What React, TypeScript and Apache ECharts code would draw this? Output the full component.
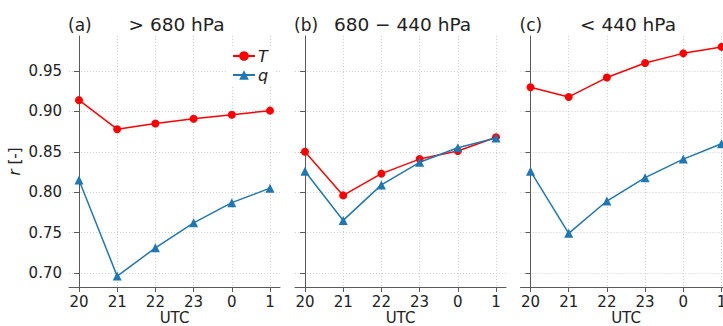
import React, { useEffect, useRef } from "react";
import * as echarts from "echarts";

// Hour labels along the x axis (UTC)
const hours = ["20", "21", "22", "23", "0", "1"];

// Correlation r for temperature (T) and humidity (q), per pressure layer
const tLow = [0.914, 0.878, 0.885, 0.891, 0.896, 0.901];
const qLow = [0.815, 0.696, 0.731, 0.762, 0.787, 0.805];

const tMid = [0.850, 0.796, 0.823, 0.841, 0.851, 0.868];
const qMid = [0.826, 0.765, 0.809, 0.837, 0.855, 0.867];

const tHigh = [0.930, 0.918, 0.942, 0.960, 0.972, 0.980];
const qHigh = [0.826, 0.749, 0.789, 0.818, 0.841, 0.860];

const panelTags = ["(a)", "(b)", "(c)"];
const panelTitles = ["> 680 hPa", "680 \u2212 440 hPa", "< 440 hPa"];
const yTicks = [0.7, 0.75, 0.8, 0.85, 0.9, 0.95];

const T_COLOR = "#ff0000";
const Q_COLOR = "#1f77b4";
const FONT = "DejaVu Sans";
const TEXT = "#222";
const SPINE = "#5a5a5a";
const GRID = "#cfcfcf";

const panels = [
  { t: tLow, q: qLow },
  { t: tMid, q: qMid },
  { t: tHigh, q: qHigh },
];

const CANVAS_W = 723;
const lefts = [69, 295, 520.5];
const WIDTH = 211;
const TOP = 36;
const HEIGHT = 251;

export default function App() {
  const ref = useRef<HTMLDivElement>(null);

  useEffect(() => {
    if (!ref.current) return;
    const chart = echarts.init(ref.current, null, { renderer: "svg" });
    const xIdx = hours.map((_, i) => i);

    // Fixed panel boxes; the last panel runs past the right edge of the canvas
    const grids = lefts.map((l) => ({
      left: l,
      top: TOP,
      width: WIDTH,
      height: HEIGHT,
      outerBoundsMode: "none",
      containLabel: false,
    }));

    const xAxes = lefts.map((_, k) => ({
      type: "value",
      gridIndex: k,
      min: -0.261,
      max: 5.261,
      name: "UTC",
      nameLocation: "middle",
      nameGap: 23,
      nameMoveOverlap: false,
      nameTextStyle: { fontFamily: FONT, fontSize: 15, lineHeight: 15, color: TEXT },
      axisLine: { show: true, lineStyle: { color: SPINE, width: 1 } },
      axisTick: { show: true, length: 5, customValues: xIdx, lineStyle: { color: SPINE } },
      axisLabel: {
        customValues: xIdx,
        margin: 7,
        fontFamily: FONT,
        fontSize: 15,
        color: TEXT,
        formatter: (v: number) => hours[Math.round(v)] ?? "",
      },
      splitLine: { show: true, lineStyle: { color: GRID, width: 1, type: [1, 2] } },
    }));

    const yAxes = lefts.map((_, k) => ({
      type: "value",
      gridIndex: k,
      min: 0.6825,
      max: 0.9935,
      name: k === 0 ? "{i|r} [-]" : "",
      nameLocation: "middle",
      nameGap: 47,
      nameMoveOverlap: false,
      nameTextStyle: {
        fontFamily: FONT,
        fontSize: 15,
        color: TEXT,
        rich: { i: { fontFamily: FONT, fontSize: 15, fontStyle: "italic", color: TEXT } },
      },
      axisLine: { show: true, lineStyle: { color: SPINE, width: 1 } },
      axisTick: { show: true, length: 5, customValues: yTicks, lineStyle: { color: SPINE } },
      axisLabel: {
        show: k === 0,
        customValues: yTicks,
        margin: 7,
        fontFamily: FONT,
        fontSize: 15,
        color: TEXT,
        formatter: (v: number) => v.toFixed(2),
      },
      splitLine: { show: true, lineStyle: { color: GRID, width: 1, type: [1, 2] } },
    }));

    const series: any[] = [];
    panels.forEach((p, k) => {
      series.push({
        name: "T",
        type: "line",
        xAxisIndex: k,
        yAxisIndex: k,
        data: p.t.map((v, i) => [i, v]),
        symbol: "circle",
        symbolSize: 8,
        lineStyle: { color: T_COLOR, width: 1.5 },
        itemStyle: { color: T_COLOR },
        z: 3,
      });
      series.push({
        name: "q",
        type: "line",
        xAxisIndex: k,
        yAxisIndex: k,
        data: p.q.map((v, i) => [i, v]),
        symbol: "triangle",
        symbolSize: 9,
        lineStyle: { color: Q_COLOR, width: 1.5 },
        itemStyle: { color: Q_COLOR },
        z: 4,
      });
    });

    const graphics: any[] = [];
    lefts.forEach((l, k) => {
      graphics.push({
        type: "text",
        x: l - 1,
        y: 25,
        style: {
          text: panelTags[k],
          fontFamily: FONT,
          fontSize: 17,
          fill: TEXT,
          verticalAlign: "middle",
          align: "left",
        },
      });
      graphics.push({
        type: "text",
        x: l + WIDTH / 2 + 2,
        y: 24,
        style: {
          text: panelTitles[k],
          fontFamily: FONT,
          fontSize: 18.5,
          fill: TEXT,
          verticalAlign: "middle",
          align: "center",
        },
      });
    });

    chart.setOption({
      animation: false,
      backgroundColor: "#ffffff",
      grid: grids,
      xAxis: xAxes,
      yAxis: yAxes,
      series,
      legend: {
        data: ["T", "q"],
        orient: "vertical",
        left: 228,
        top: 46,
        itemWidth: 22,
        itemHeight: 12,
        itemGap: 3,
        padding: [2, 6, 4, 4],
        backgroundColor: "#ffffff",
        selectedMode: false,
        textStyle: {
          fontFamily: FONT,
          fontSize: 16,
          lineHeight: 16,
          fontStyle: "italic",
          color: TEXT,
          padding: [0, 0, 0, -2],
        },
      },
      graphic: graphics,
    });

    return () => chart.dispose();
  }, []);

  return (
    <div
      ref={ref}
      style={{ position: "fixed", left: 0, top: 0, width: CANVAS_W, height: 326 }}
    />
  );
}
